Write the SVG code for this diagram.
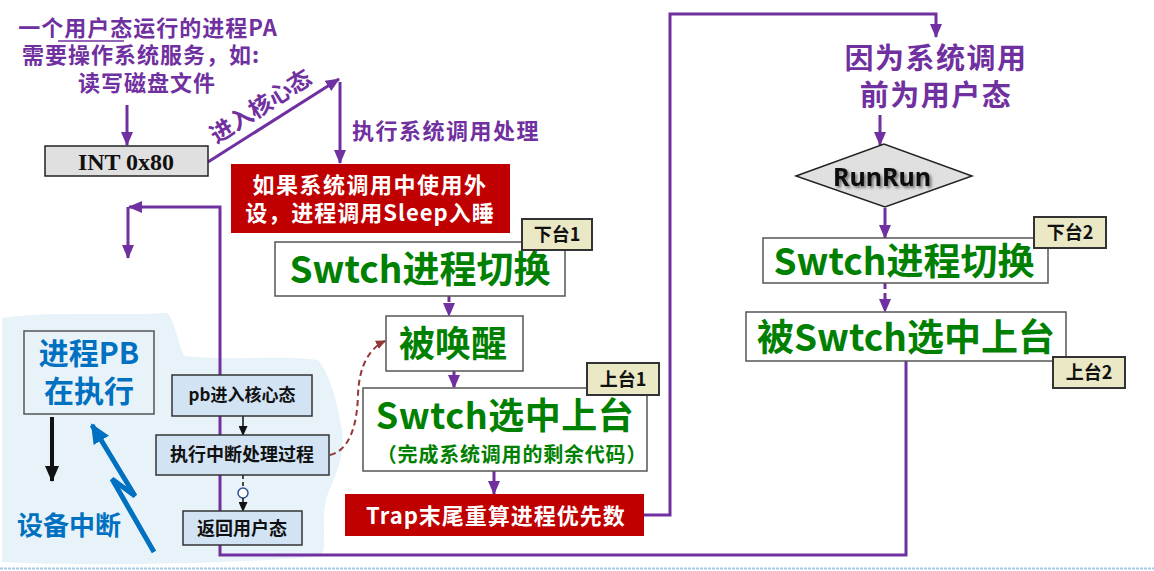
<svg xmlns="http://www.w3.org/2000/svg" width="1154" height="571" viewBox="0 0 1154 571">
<style>
.cjk{font-family:"Noto Sans CJK SC","Noto Sans",sans-serif;font-weight:bold}
.pur{fill:#7030a0}
.grn{fill:#008000}
.wht{fill:#ffffff}
.blk{fill:#111111}
.blu{fill:#0070c0}
.box{fill:#ffffff;stroke:#555555;stroke-width:1.5}
.red{fill:#c00000}
.tag{fill:#ebe8c6;stroke:#333333;stroke-width:2}
.sbox{fill:#d2e4f4;stroke:#333333;stroke-width:1.5}
.pline{fill:none;stroke:#7030a0;stroke-width:3}
.pdash{fill:none;stroke:#7030a0;stroke-width:3;stroke-dasharray:6 4}
</style>
<defs>
<marker id="ap" markerUnits="userSpaceOnUse" markerWidth="14" markerHeight="12" refX="13" refY="6" orient="auto"><path d="M0,0 L14,6 L0,12 Z" fill="#7030a0"/></marker>
<marker id="ak" markerUnits="userSpaceOnUse" markerWidth="10" markerHeight="9" refX="9" refY="4.5" orient="auto"><path d="M0,0 L10,4.5 L0,9 Z" fill="#111"/></marker>
<marker id="akb" markerUnits="userSpaceOnUse" markerWidth="16" markerHeight="14" refX="15" refY="7" orient="auto"><path d="M0,0 L16,7 L0,14 Z" fill="#111"/></marker>
<marker id="ablu" markerUnits="userSpaceOnUse" markerWidth="20" markerHeight="18" refX="18" refY="9" orient="auto"><path d="M0,0 L20,9 L0,18 Z" fill="#0070c0"/></marker>
<marker id="abr" markerUnits="userSpaceOnUse" markerWidth="10" markerHeight="9" refX="9" refY="4.5" orient="auto"><path d="M0,0 L10,4.5 L0,9 Z" fill="#953735"/></marker>
<filter id="sh" x="-20%" y="-40%" width="140%" height="180%"><feGaussianBlur in="SourceAlpha" stdDeviation="1.5"/><feOffset dx="1.5" dy="2" result="b"/><feFlood flood-color="#000" flood-opacity="0.5"/><feComposite in2="b" operator="in"/><feMerge><feMergeNode/><feMergeNode in="SourceGraphic"/></feMerge></filter>
</defs>

<!-- background cloud -->
<path id="cloud" d="M2,318 C40,311 120,316 168,313 C176,326 178,342 184,356 C230,361 280,355 318,360 C331,376 337,402 342,430 C346,462 331,482 326,500 C321,522 327,540 322,556 C250,563 100,567 2,562 Z" fill="#e8f3f9"/>

<!-- bottom dotted line -->
<line x1="0" y1="568.5" x2="1154" y2="568.5" stroke="#a9c9e6" stroke-width="2" stroke-dasharray="3 1"/>

<g id="connectors">
<line class="pline" x1="127" y1="105" x2="127" y2="145" marker-end="url(#ap)"/>
<line class="pline" x1="208" y1="162" x2="339" y2="79" marker-end="url(#ap)"/>
<line class="pline" x1="340" y1="82" x2="340" y2="163" marker-end="url(#ap)"/>
<polyline class="pline" points="906,361 906,555 220,555 220,207 129,207" marker-end="url(#ap)"/>
<line class="pline" x1="128" y1="207" x2="128" y2="258" marker-end="url(#ap)"/>
<polyline class="pline" points="644,515 670,515 670,14 936,14 936,37" marker-end="url(#ap)"/>
<line class="pline" x1="880" y1="115" x2="880" y2="145" marker-end="url(#ap)"/>
<line class="pline" x1="885" y1="208" x2="885" y2="238" marker-end="url(#ap)"/>
<line class="pdash" x1="885" y1="283" x2="885" y2="312" marker-end="url(#ap)"/>
<line class="pdash" x1="449" y1="296" x2="449" y2="316" marker-end="url(#ap)"/>
<line class="pdash" x1="454" y1="371" x2="454" y2="388" marker-end="url(#ap)"/>
<line class="pline" x1="494" y1="471" x2="494" y2="494" marker-end="url(#ap)"/>
<line x1="243" y1="416" x2="243" y2="435" stroke="#111" stroke-width="1.5" marker-end="url(#ak)"/>
<line x1="243" y1="475" x2="243" y2="488" stroke="#111" stroke-width="1.5" stroke-dasharray="4 3"/>
<circle cx="243" cy="493" r="5" fill="#fff" stroke="#2f528f" stroke-width="1.5"/>
<line x1="243" y1="498" x2="243" y2="511" stroke="#111" stroke-width="1.5" stroke-dasharray="4 3" marker-end="url(#ak)"/>
<path d="M330,455 C350,450 357,425 358,395 C359,365 370,348 385,341" fill="none" stroke="#953735" stroke-width="2" stroke-dasharray="6 4" marker-end="url(#abr)"/>
<line x1="52" y1="417" x2="52" y2="481" stroke="#111" stroke-width="4" marker-end="url(#akb)"/>
<polyline points="154,552 112,479 135,496 92,425" fill="none" stroke="#0070c0" stroke-width="5" stroke-linejoin="miter" marker-end="url(#ablu)"/>
</g>

<g id="pa-text">
<text class="cjk pur" font-size="22" x="148" y="36" text-anchor="middle" letter-spacing="1">一个用户态运行的进程PA</text>
<line x1="58" y1="41" x2="124" y2="41" stroke="#7030a0" stroke-width="1.5"/>
<text class="cjk pur" font-size="22" x="141" y="63" text-anchor="middle" letter-spacing="1">需要操作系统服务，如:</text>
<text class="cjk pur" font-size="22" x="147" y="91" text-anchor="middle" letter-spacing="1">读写磁盘文件</text>
</g>

<g id="label-kernel">
<text class="cjk pur" font-size="23" x="0" y="0" text-anchor="middle" transform="translate(265,113) rotate(-32.5)">进入核心态</text>
</g>
<g id="label-syscall">
<text class="cjk pur" font-size="22" x="352" y="139" letter-spacing="1.5">执行系统调用处理</text>
</g>

<g id="int">
<rect x="45" y="146" width="163" height="30" fill="#e0e0e0" stroke="#222" stroke-width="1.5"/>
<text x="126" y="170" text-anchor="middle" font-family="Liberation Serif,serif" font-weight="bold" font-size="24" fill="#111">INT 0x80</text>
</g>

<g id="sleep">
<rect class="red" x="231" y="164" width="279" height="69"/>
<text class="cjk wht" font-size="22" x="370" y="193" text-anchor="middle" letter-spacing="1.5">如果系统调用中使用外</text>
<text class="cjk wht" font-size="22" x="370" y="221" text-anchor="middle" letter-spacing="1">设，进程调用Sleep入睡</text>
</g>

<g id="switch1">
<rect class="box" x="275" y="242" width="290" height="54"/>
<text class="cjk grn" font-size="37" x="420" y="283" text-anchor="middle">Swtch进程切换</text>
</g>
<g id="tag-down1">
<rect class="tag" x="522" y="219" width="70" height="31"/>
<text class="cjk blk" font-size="18" x="557" y="241" text-anchor="middle">下台1</text>
</g>

<g id="wake">
<rect class="box" x="386" y="316" width="137" height="55"/>
<text class="cjk grn" font-size="36" x="453" y="357" text-anchor="middle">被唤醒</text>
</g>

<g id="select1">
<rect class="box" x="363" y="388" width="284" height="83"/>
<text class="cjk grn" font-size="36" x="505" y="429" text-anchor="middle" letter-spacing="0.5">Swtch选中上台</text>
<text class="cjk grn" font-size="20" x="512" y="462" text-anchor="middle" letter-spacing="0.8">（完成系统调用的剩余代码）</text>
</g>
<g id="tag-up1">
<rect class="tag" x="587" y="363" width="72" height="32"/>
<text class="cjk blk" font-size="18" x="623" y="386" text-anchor="middle">上台1</text>
</g>

<g id="trap">
<rect class="red" x="345" y="494" width="299" height="42"/>
<text class="cjk wht" font-size="22" x="496" y="524" text-anchor="middle" letter-spacing="1">Trap末尾重算进程优先数</text>
</g>

<g id="pb">
<rect x="24" y="331" width="130" height="83" fill="#e8f3f9" stroke="#555" stroke-width="1.5"/>
<text class="cjk blu" font-size="30" x="89" y="364" text-anchor="middle">进程PB</text>
<text class="cjk blu" font-size="30" x="89" y="402" text-anchor="middle">在执行</text>
</g>
<g id="device-int">
<text class="cjk blu" font-size="26" x="69" y="535" text-anchor="middle">设备中断</text>
</g>

<g id="pb-kernel">
<rect class="sbox" x="172" y="375" width="140" height="41"/>
<text class="cjk blk" font-size="17" x="242" y="401" text-anchor="middle">pb进入核心态</text>
</g>
<g id="handler">
<rect class="sbox" x="156" y="435" width="173" height="40"/>
<text class="cjk blk" font-size="18" x="242" y="461" text-anchor="middle">执行中断处理过程</text>
</g>
<g id="return">
<rect class="sbox" x="183" y="511" width="119" height="34"/>
<text class="cjk blk" font-size="18" x="242" y="535" text-anchor="middle">返回用户态</text>
</g>

<g id="reason">
<text class="cjk pur" font-size="29" x="936" y="69" text-anchor="middle" letter-spacing="1.5">因为系统调用</text>
<text class="cjk pur" font-size="29" x="936" y="106" text-anchor="middle" letter-spacing="1.5">前为用户态</text>
</g>

<g id="runrun">
<polygon points="796,176 884,144 972,176 885,207" fill="#e0e0e0" stroke="#222" stroke-width="1.5"/>
<text x="882" y="186" text-anchor="middle" font-family="Noto Sans,sans-serif" font-weight="bold" font-size="25" fill="#111" filter="url(#sh)">RunRun</text>
</g>

<g id="switch2">
<rect class="box" x="763" y="238" width="285" height="45"/>
<text class="cjk grn" font-size="37" x="904" y="275" text-anchor="middle">Swtch进程切换</text>
</g>
<g id="tag-down2">
<rect class="tag" x="1034" y="217" width="72" height="31"/>
<text class="cjk blk" font-size="18" x="1070" y="239" text-anchor="middle">下台2</text>
</g>

<g id="select2">
<rect class="box" x="746" y="312" width="320" height="49"/>
<text class="cjk grn" font-size="37" x="906" y="351" text-anchor="middle">被Swtch选中上台</text>
</g>
<g id="tag-up2">
<rect class="tag" x="1053" y="357" width="72" height="31"/>
<text class="cjk blk" font-size="18" x="1089" y="379" text-anchor="middle">上台2</text>
</g>
</svg>
